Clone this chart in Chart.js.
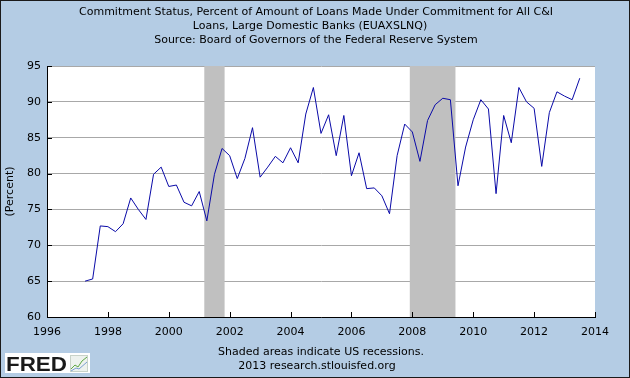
<!DOCTYPE html>
<html><head><meta charset="utf-8">
<script src="https://cdn.jsdelivr.net/npm/chart.js@4/dist/chart.umd.min.js"></script>
<style>html,body{margin:0;padding:0;background:#b4cce4;}canvas{display:block}</style>
</head><body>
<div style="width:630px;height:378px"><canvas id="c" width="630" height="378"></canvas></div>
<script>
const quarters = [
  '1997Q2','1997Q3','1997Q4',
  '1998Q1','1998Q2','1998Q3','1998Q4',
  '1999Q1','1999Q2','1999Q3','1999Q4',
  '2000Q1','2000Q2','2000Q3','2000Q4',
  '2001Q1','2001Q2','2001Q3','2001Q4',
  '2002Q1','2002Q2','2002Q3','2002Q4',
  '2003Q1','2003Q2','2003Q3','2003Q4',
  '2004Q1','2004Q2','2004Q3','2004Q4',
  '2005Q1','2005Q2','2005Q3','2005Q4',
  '2006Q1','2006Q2','2006Q3','2006Q4',
  '2007Q1','2007Q2','2007Q3','2007Q4',
  '2008Q1','2008Q2','2008Q3','2008Q4',
  '2009Q1','2009Q2','2009Q3','2009Q4',
  '2010Q1','2010Q2','2010Q3','2010Q4',
  '2011Q1','2011Q2','2011Q3','2011Q4',
  '2012Q1','2012Q2','2012Q3','2012Q4',
  '2013Q1','2013Q2','2013Q3'
];
const values = [
  65.0, 65.3, 72.7,
  72.6, 71.9, 73.0, 76.6,
  75.0, 73.6, 79.9, 80.9,
  78.2, 78.4, 76.0, 75.5,
  77.5, 73.4, 79.9, 83.5,
  82.5, 79.3, 82.1, 86.4,
  79.5, 80.9, 82.4, 81.5,
  83.6, 81.5, 88.3, 92.0,
  85.6, 88.2, 82.5, 88.1,
  79.7, 82.9, 77.9, 78.0,
  76.9, 74.4, 82.5, 86.9,
  85.8, 81.7, 87.4, 89.6,
  90.5, 90.3, 78.3, 83.7,
  87.5, 90.3, 89.0, 77.2,
  88.1, 84.3, 92.0, 90.0,
  89.1, 81.0, 88.5, 91.4,
  90.8, 90.3, 93.3
];
const recessions = [['2001-03','2001-11'], ['2007-12','2009-06']];
const yTicks = [60, 65, 70, 75, 80, 85, 90, 95];
const xTicks = [1996, 1998, 2000, 2002, 2004, 2006, 2008, 2010, 2012, 2014];
const titleLines = [
  'Commitment Status, Percent of Amount of Loans Made Under Commitment for All C&I',
  'Loans, Large Domestic Banks (EUAXSLNQ)',
  'Source: Board of Governors of the Federal Reserve System'
];
const footerLines = ['Shaded areas indicate US recessions.', '2013 research.stlouisfed.org'];
const yTitle = '(Percent)';

const FONT = "'DejaVu Sans', Verdana, sans-serif";
const qToYear = q => +q.slice(0,4) + (+q.slice(5) - 1) * 0.25;
const mToYear = m => +m.slice(0,4) + (+m.slice(5) - 1) / 12;
const points = quarters.map((q, i) => ({x: qToYear(q), y: values[i]}));

const bgPlugin = {
  id: 'bg',
  beforeDraw(chart) {
    const {ctx, chartArea: a} = chart;
    ctx.save();
    ctx.fillStyle = '#b4cce4';
    ctx.fillRect(0, 0, chart.width, chart.height);
    ctx.fillStyle = '#ffffff';
    ctx.fillRect(a.left, a.top, a.right - a.left, a.bottom - a.top);
    ctx.restore();
  },
  beforeDatasetsDraw(chart) {
    const {ctx, chartArea: a, scales: {x}} = chart;
    ctx.save();
    ctx.fillStyle = '#c0c0c0';
    recessions.forEach(([s, e]) => {
      const x0 = x.getPixelForValue(mToYear(s));
      const x1 = x.getPixelForValue(mToYear(e));
      ctx.fillRect(x0, a.top, x1 - x0, a.bottom - a.top);
    });
    ctx.restore();
  },
  afterDatasetsDraw(chart) {
    // inward tick marks
    const {ctx, chartArea: a, scales: {x, y}} = chart;
    ctx.save();
    ctx.strokeStyle = '#000';
    ctx.lineWidth = 1;
    ctx.beginPath();
    xTicks.forEach(v => {
      const px = Math.round(x.getPixelForValue(v)) + 0.5;
      ctx.moveTo(px, a.bottom); ctx.lineTo(px, a.bottom - 5);
    });
    yTicks.forEach(v => {
      const py = Math.round(y.getPixelForValue(v)) + 0.5;
      ctx.moveTo(a.left, py); ctx.lineTo(a.left + 5, py);
    });
    ctx.stroke();
    ctx.restore();
  },
  afterDraw(chart) {
    const ctx = chart.ctx;
    ctx.save();
    ctx.fillStyle = '#000';
    ctx.textAlign = 'center';
    ctx.textBaseline = 'middle';
    ctx.font = '11px ' + FONT;
    const tx = [316, 310, 316];
    titleLines.forEach((t, i) => ctx.fillText(t, tx[i], 12 + i * 14));
    const fx = [321, 317];
    footerLines.forEach((t, i) => ctx.fillText(t, fx[i], 352 + i * 14));
    // FRED logo
    ctx.fillStyle = '#fff';
    ctx.fillRect(5, 353, 85, 20);
    ctx.fillStyle = '#1a1a1a';
    ctx.textAlign = 'left';
    ctx.textBaseline = 'alphabetic';
    ctx.font = "bold 20px 'Liberation Sans', Arial, sans-serif";
    const w = ctx.measureText('FRED').width;
    ctx.save();
    ctx.translate(6, 371);
    ctx.scale(61 / w, 1);
    ctx.fillText('FRED', 0, 0);
    ctx.restore();
    ctx.fillStyle = '#eef2ee';
    ctx.fillRect(70, 355, 18, 17);
    ctx.strokeStyle = '#c9d3c9';
    ctx.lineWidth = 1;
    ctx.strokeRect(70.5, 355.5, 17, 16);
    ctx.strokeStyle = '#5fa845';
    ctx.beginPath(); ctx.moveTo(71, 369); ctx.lineTo(75, 365); ctx.lineTo(78, 367); ctx.lineTo(82, 361); ctx.lineTo(87, 357); ctx.stroke();
    ctx.strokeStyle = '#7b9fd0';
    ctx.beginPath(); ctx.moveTo(71, 371); ctx.lineTo(76, 368); ctx.lineTo(79, 369); ctx.lineTo(87, 362); ctx.stroke();
    // outer border
    ctx.strokeStyle = '#1a1a1a';
    ctx.strokeRect(0.5, 0.5, chart.width - 1, chart.height - 1);
    ctx.restore();
  }
};

new Chart(document.getElementById('c'), {
  type: 'line',
  data: {
    datasets: [{
      data: points,
      borderColor: '#0a0aa8',
      borderWidth: 1,
      pointRadius: 0,
      tension: 0,
      fill: false
    }]
  },
  options: {
    responsive: false,
    devicePixelRatio: 1,
    animation: false,
    layout: {padding: {left: 0, right: 35, top: 66, bottom: 41}},
    plugins: {legend: {display: false}, tooltip: {enabled: false}, title: {display: false}},
    scales: {
      x: {
        type: 'linear', min: xTicks[0], max: xTicks[xTicks.length - 1],
        afterBuildTicks: s => { s.ticks = xTicks.map(v => ({value: v})); },
        afterFit: s => { s.height = 20; },
        ticks: {callback: v => String(v), color: '#000', font: {family: FONT, size: 11}, padding: 9, maxRotation: 0, autoSkip: false},
        grid: {drawOnChartArea: false, drawTicks: false},
        border: {color: '#000', width: 1}
      },
      y: {
        min: yTicks[0], max: yTicks[yTicks.length - 1],
        afterBuildTicks: s => { s.ticks = yTicks.map(v => ({value: v})); },
        afterFit: s => { s.width = 47; },
        ticks: {callback: v => String(v), color: '#000', font: {family: FONT, size: 11}, padding: 6},
        grid: {color: '#a8a8a8', drawTicks: false},
        border: {color: '#000', width: 1},
        title: {display: true, text: yTitle, color: '#000', font: {family: FONT, size: 11}, padding: {top: 4, bottom: 0}}
      }
    }
  },
  plugins: [bgPlugin]
});
</script>
</body></html>
